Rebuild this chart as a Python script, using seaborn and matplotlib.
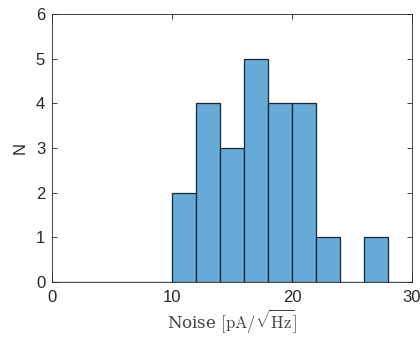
import numpy as np
import pandas as pd
import seaborn as sns
import matplotlib
matplotlib.use("Agg")
import matplotlib.pyplot as plt

# histogram bins (width 2 from 0 to 30) and counts
bin_centers = [1, 3, 5, 7, 9, 11, 13, 15, 17, 19, 21, 23, 25, 27, 29]
counts = [0, 0, 0, 0, 0, 2, 4, 3, 5, 4, 4, 1, 0, 1, 0]

x_ticks = [0, 10, 20, 30]
y_ticks = [0, 1, 2, 3, 4, 5, 6]

df = pd.DataFrame({"noise": bin_centers, "n": counts})

sns.set_style("ticks")
plt.rcParams["font.family"] = ["Liberation Sans", "DejaVu Sans"]
plt.rcParams["mathtext.fontset"] = "cm"

fig = plt.figure(figsize=(4.2, 3.38), dpi=100)
ax = fig.add_axes([0.124, 0.166, 0.857, 0.793])

sns.histplot(
    data=df,
    x="noise",
    weights="n",
    binwidth=2,
    binrange=(0, 30),
    color="#66aad7",
    alpha=1,
    edgecolor="#1c2630",
    linewidth=0.9,
    ax=ax,
)

ax.set_xlim(0, 30)
ax.set_ylim(0, 6)
ax.set_xticks(x_ticks)
ax.set_yticks(y_ticks)
ax.tick_params(direction="in", top=True, right=True, length=3.5, width=0.6,
               colors="#262626", labelsize=12)
ax.tick_params(axis="x", pad=6)
ax.tick_params(axis="y", pad=5)
for s in ax.spines.values():
    s.set_visible(True)
    s.set_color("#262626")
    s.set_linewidth(0.6)

ax.set_xlabel(r"Noise $[\mathrm{pA}/\sqrt{\mathrm{Hz}}]$", fontfamily="serif",
              fontsize=12, color="#404040", labelpad=1)
ax.set_ylabel("N", fontsize=12, color="#262626", labelpad=6)

fig.savefig("out.png", dpi=100)
